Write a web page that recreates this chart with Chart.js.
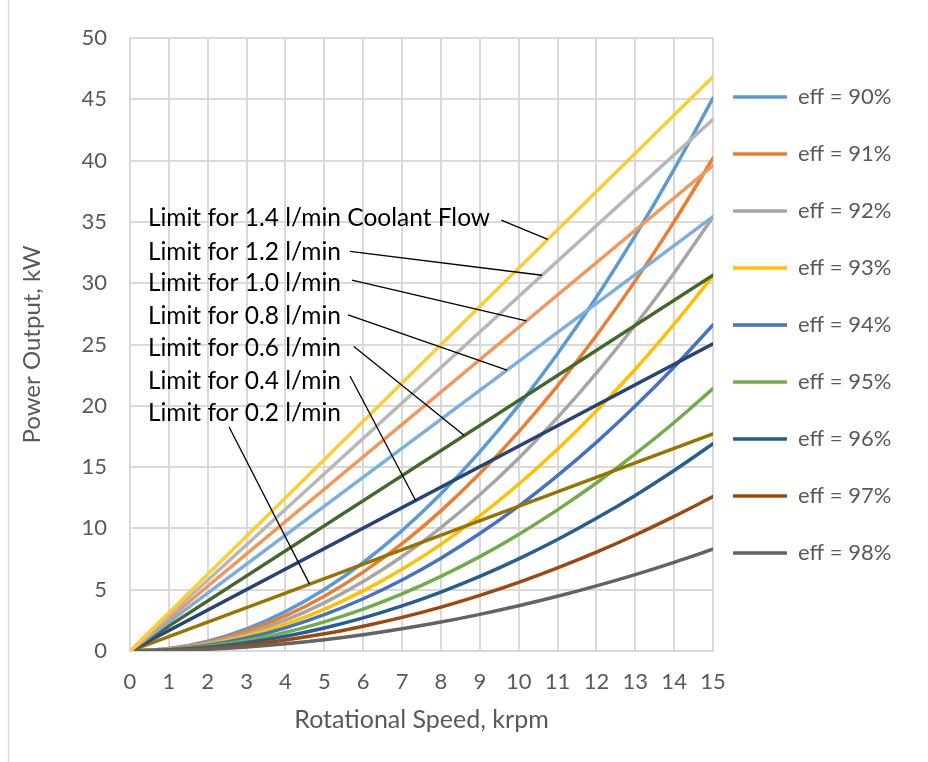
<!DOCTYPE html>
<html lang="en">
<head>
<meta charset="utf-8">
<title>Power Output vs Rotational Speed</title>
<script src="https://cdn.jsdelivr.net/npm/chart.js@4.4.1/dist/chart.umd.min.js"></script>
<style>
  html, body { margin: 0; padding: 0; background: #fff; }
  #chart { display: block; }
</style>
</head>
<body>
<canvas id="chart" width="928" height="762"></canvas>
<script>
// rotational speed, krpm
const speed = [0, 1, 2, 3, 4, 5, 6, 7, 8, 9, 10, 11, 12, 13, 14, 15];

// power output (kW) for constant efficiency
const eff90 = [0, 0.2, 0.8, 1.8, 3.21, 5.01, 7.22, 9.82, 12.83, 16.24, 20.04, 24.25, 28.86, 33.88, 39.29, 45.1];
const eff91 = [0, 0.18, 0.71, 1.61, 2.86, 4.47, 6.43, 8.75, 11.43, 14.47, 17.87, 21.62, 25.73, 30.19, 35.02, 40.2];
const eff92 = [0, 0.16, 0.63, 1.42, 2.52, 3.93, 5.66, 7.71, 10.07, 12.74, 15.73, 19.04, 22.66, 26.59, 30.84, 35.4];
const eff93 = [0, 0.14, 0.54, 1.22, 2.18, 3.4, 4.9, 6.66, 8.7, 11.02, 13.6, 16.46, 19.58, 22.98, 26.66, 30.6];
const eff94 = [0, 0.12, 0.47, 1.06, 1.89, 2.96, 4.26, 5.79, 7.57, 9.58, 11.82, 14.31, 17.02, 19.98, 23.17, 26.6];
const eff95 = [0, 0.1, 0.38, 0.86, 1.52, 2.38, 3.42, 4.66, 6.09, 7.7, 9.51, 11.51, 13.7, 16.07, 18.64, 21.4];
const eff96 = [0, 0.08, 0.3, 0.68, 1.2, 1.88, 2.7, 3.68, 4.81, 6.08, 7.51, 9.09, 10.82, 12.69, 14.72, 16.9];
const eff97 = [0, 0.06, 0.22, 0.5, 0.9, 1.4, 2.02, 2.74, 3.58, 4.54, 5.6, 6.78, 8.06, 9.46, 10.98, 12.6];
const eff98 = [0, 0.04, 0.15, 0.33, 0.59, 0.92, 1.33, 1.81, 2.36, 2.99, 3.69, 4.46, 5.31, 6.23, 7.23, 8.3];
const effLabels = ['eff = 90%', 'eff = 91%', 'eff = 92%', 'eff = 93%', 'eff = 94%', 'eff = 95%', 'eff = 96%', 'eff = 97%', 'eff = 98%'];

// coolant flow limits (straight lines from the origin)
const limitSpeed = [0, 15];
const limit02 = [0, 17.7];
const limit04 = [0, 25.05];
const limit06 = [0, 30.65];
const limit08 = [0, 35.43];
const limit10 = [0, 39.6];
const limit12 = [0, 43.37];
const limit14 = [0, 46.84];
const limitLabels = ['Limit for 0.2 l/min', 'Limit for 0.4 l/min', 'Limit for 0.6 l/min', 'Limit for 0.8 l/min',
  'Limit for 1.0 l/min', 'Limit for 1.2 l/min', 'Limit for 1.4 l/min Coolant Flow'];

const xTicks = [0, 1, 2, 3, 4, 5, 6, 7, 8, 9, 10, 11, 12, 13, 14, 15];
const yTicks = [0, 5, 10, 15, 20, 25, 30, 35, 40, 45, 50];

const effSeries = [eff90, eff91, eff92, eff93, eff94, eff95, eff96, eff97, eff98];
const limitSeries = [limit02, limit04, limit06, limit08, limit10, limit12, limit14];
const effColors = ['#5B9BD5', '#ED7D31', '#A5A5A5', '#FFC000', '#4472C4', '#70AD47', '#255E91', '#9E480E', '#636363'];
const limitColors = ['#997300', '#264478', '#43682B', '#7CAFDD', '#F1975A', '#B7B7B7', '#FFCD33'];

const FONT = 'Lato';
const GREY_TXT = '#595959';
const GRID = '#D9D9D9';

function pts(xs, ys) {
  return xs.map((x, i) => ({ x: x, y: ys[i] }));
}

const datasets = [];
effSeries.forEach((ys, i) => {
  datasets.push({
    label: effLabels[i],
    data: pts(speed, ys),
    borderColor: effColors[i],
    backgroundColor: effColors[i],
    cubicInterpolationMode: 'monotone'
  });
});
limitSeries.forEach((ys, i) => {
  datasets.push({
    label: limitLabels[i],
    data: pts(limitSpeed, ys),
    borderColor: limitColors[i],
    backgroundColor: limitColors[i]
  });
});
// later series sit on top, like the spreadsheet
datasets.forEach((d, i) => {
  d.order = datasets.length - i;
  d.borderWidth = 3.5;
  d.pointBorderWidth = 3.5;
  d.pointRadius = 0;
  d.borderCapStyle = 'round';
  d.borderJoinStyle = 'round';
  d.showLine = true;
  d.fill = false;
});

// leader-line labels for the limit lines (index into limitSeries)
const notes = [
  { s: 6, tx: 0.46, ty: 35.27, lx: 9.55, ly: 35.15, at: 10.75 },
  { s: 5, tx: 0.46, ty: 32.57, lx: 5.66, ly: 32.6, at: 10.6 },
  { s: 4, tx: 0.46, ty: 30.0, lx: 5.71, ly: 30.26, at: 10.2 },
  { s: 3, tx: 0.46, ty: 27.3, lx: 5.61, ly: 27.41, at: 9.7 },
  { s: 2, tx: 0.46, ty: 24.7, lx: 5.76, ly: 24.84, at: 8.6 },
  { s: 1, tx: 0.46, ty: 22.0, lx: 5.66, ly: 22.43, at: 7.35 },
  { s: 0, tx: 0.46, ty: 19.4, lx: 2.55, ly: 18.27, at: 4.62 }
];

const LEGEND_FS = 22;
const LEGEND_PAD = 35;

const notesPlugin = {
  id: 'notes',
  afterLayout(chart) {
    // nudge the legend to where the original puts it
    const lg = chart.legend;
    const dx = 733 - (lg.left + LEGEND_PAD);
    const dy = 97 - (lg.top + LEGEND_PAD + LEGEND_FS / 2);
    lg.left += dx;
    lg.top += dy; lg.bottom += dy;
    lg.right = chart.width;
    lg.width = lg.right - lg.left;
  },
  beforeDraw(chart) {
    const ctx = chart.ctx;
    ctx.save();
    ctx.strokeStyle = GRID;
    ctx.lineWidth = 1.5;
    ctx.beginPath();
    ctx.moveTo(8.5, 0);
    ctx.lineTo(8.5, chart.height);
    ctx.stroke();
    ctx.restore();
  },
  afterDatasetsDraw(chart) {
    const { ctx, scales: { x, y } } = chart;
    ctx.save();
    ctx.strokeStyle = '#000';
    ctx.lineWidth = 1.3;
    ctx.fillStyle = '#000';
    ctx.font = '24.5px ' + FONT;
    ctx.textBaseline = 'middle';
    ctx.textAlign = 'left';
    notes.forEach(n => {
      const d = limitSeries[n.s];
      const ey = d[0] + (d[1] - d[0]) * (n.at - limitSpeed[0]) / (limitSpeed[1] - limitSpeed[0]);
      ctx.beginPath();
      ctx.moveTo(x.getPixelForValue(n.lx), y.getPixelForValue(n.ly));
      ctx.lineTo(x.getPixelForValue(n.at), y.getPixelForValue(ey));
      ctx.stroke();
      ctx.fillText(limitLabels[n.s], x.getPixelForValue(n.tx), y.getPixelForValue(n.ty));
    });
    ctx.restore();
  }
};

const ctx = document.getElementById('chart').getContext('2d');
new Chart(ctx, {
  type: 'scatter',
  data: { datasets: datasets },
  plugins: [notesPlugin],
  options: {
    responsive: false,
    animation: false,
    layout: { padding: { top: 38, right: 35, bottom: 0, left: 0 } },
    plugins: {
      tooltip: { enabled: false },
      legend: {
        position: 'right',
        align: 'start',
        fullSize: false,
        maxWidth: 180,
        labels: {
          usePointStyle: true,
          pointStyle: 'line',
          pointStyleWidth: 54,
          padding: LEGEND_PAD,
          color: GREY_TXT,
          font: { family: FONT, size: LEGEND_FS },
          filter: item => item.datasetIndex < effSeries.length,
          sort: (a, b) => a.datasetIndex - b.datasetIndex
        }
      }
    },
    scales: {
      x: {
        type: 'linear',
        min: 0,
        max: 15,
        afterBuildTicks: s => { s.ticks = xTicks.map(v => ({ value: v })); },
        afterFit: s => { s.height = 111; },
        grid: { color: GRID, lineWidth: 2, drawTicks: false },
        border: { color: GRID, width: 2 },
        ticks: { padding: 18, color: GREY_TXT, font: { family: FONT, size: 22 }, maxRotation: 0 },
        title: {
          display: true,
          text: 'Rotational Speed, krpm',
          color: GREY_TXT,
          font: { family: FONT, size: 25, weight: 'normal' },
          padding: { top: 0, bottom: 27 }
        }
      },
      y: {
        type: 'linear',
        min: 0,
        max: 50,
        afterBuildTicks: s => { s.ticks = yTicks.map(v => ({ value: v })); },
        afterFit: s => { s.width = 130; },
        grid: { color: GRID, lineWidth: 2, drawTicks: false },
        border: { color: GRID, width: 2 },
        ticks: { padding: 23, color: GREY_TXT, font: { family: FONT, size: 22 } },
        title: {
          display: true,
          text: 'Power Output, kW',
          color: GREY_TXT,
          font: { family: FONT, size: 24, weight: 'normal' },
          padding: { top: 18, bottom: 0 }
        }
      }
    }
  }
});
</script>
</body>
</html>
